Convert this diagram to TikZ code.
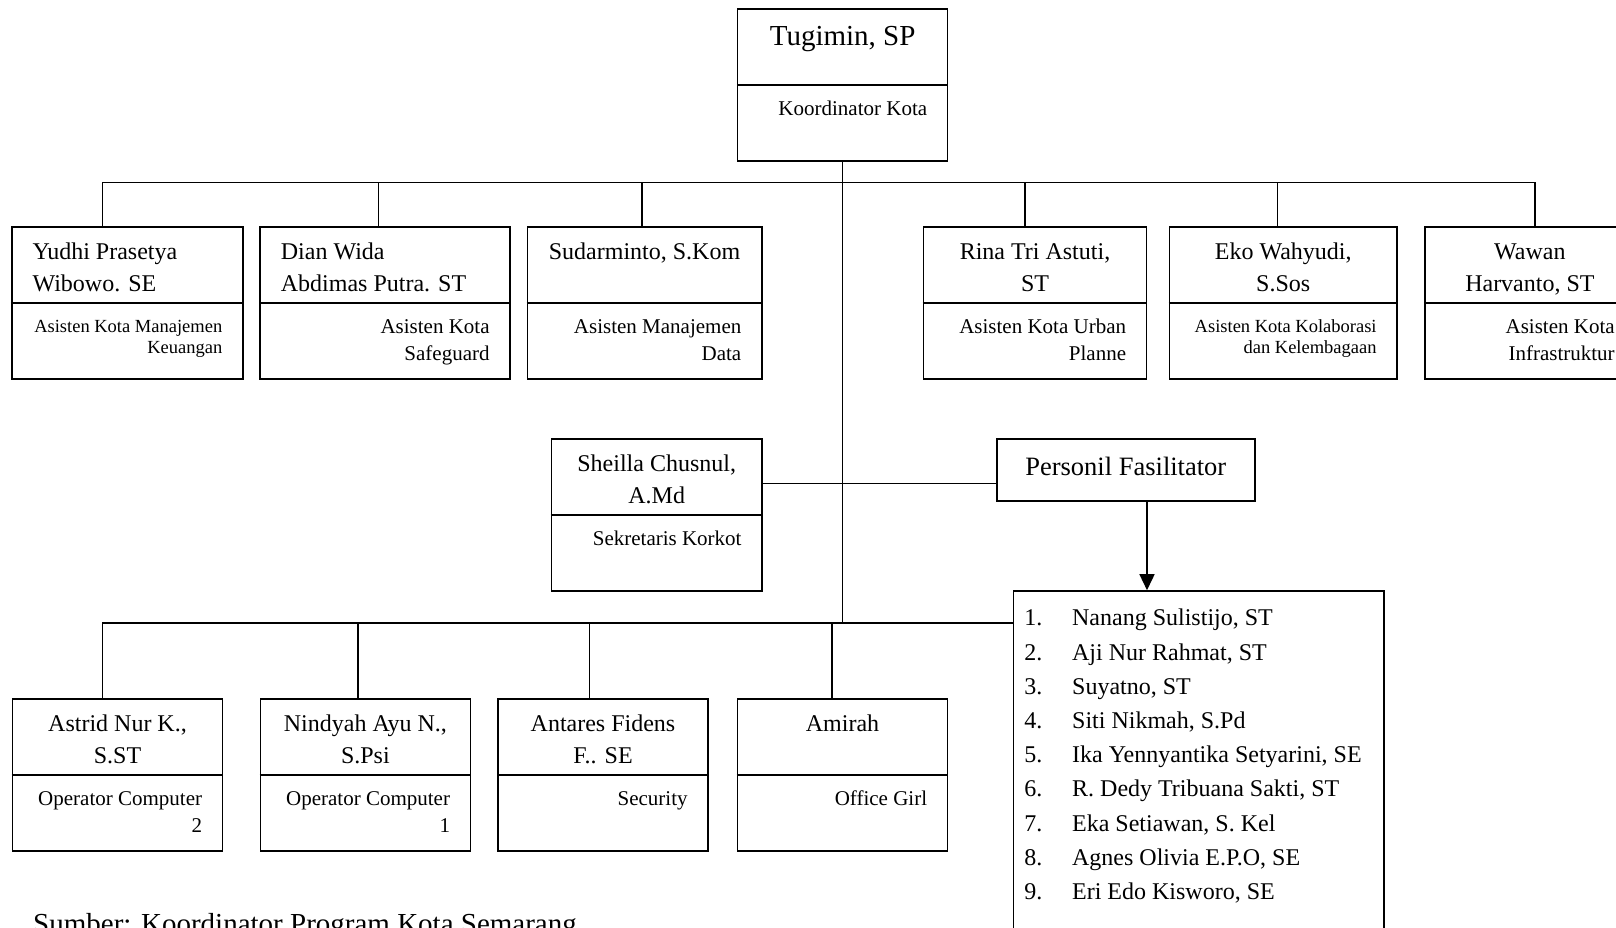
\documentclass[tikz,border=0pt]{standalone}
\usepackage{fontspec}
\setmainfont{Liberation Serif}
\usetikzlibrary{arrows.meta,positioning,calc}

\tikzset{
    orgbox/.style={draw, line width=1.6pt, inner sep=0pt, minimum height=152pt},
    link/.style={line width=1.6pt},
    nametxt/.style={inner sep=0pt, font=\fontsize{24}{32}\selectfont, align=center, anchor=north},
    roletxt/.style={inner sep=0pt, font=\fontsize{21}{27.5}\selectfont, align=right, anchor=north east},
    smallrole/.style={roletxt, font=\fontsize{18.5}{21}\selectfont},
    listtxt/.style={inner sep=0pt, font=\fontsize{24}{32}\selectfont, anchor=base west},
}

\begin{document}
\begin{tikzpicture}[x=1pt, y=-1pt]
    \useasboundingbox (0,0) rectangle (1616,928);
    \clip (0,0) rectangle (1616,928);

    % Boxes
    \node[orgbox, minimum width=210pt] (korkot) at (842.6,84.9) {};
    \foreach \id/\cx/\w in {yudhi/127.2/231, dian/385/250, sudar/644.5/234.4,
        rina/1035/223, eko/1283.2/227.6, wawan/1529.9/210.3}
        { \node[orgbox, minimum width=\w pt] (\id) at (\cx,303) {}; }
    \node[orgbox, minimum width=210.5pt] (sheilla) at (656.7,515) {};
    \foreach \id/\cx in {astrid/117.5, nindyah/365.4, antares/603, amirah/842.5}
        { \node[orgbox, minimum width=210pt] (\id) at (\cx,775) {}; }
    \node[draw, line width=1.6pt, inner sep=0pt, minimum width=258pt, minimum height=62pt,
        font=\fontsize{26.5}{30}\selectfont, text height=18pt, text depth=8pt]
        (persfas) at (1125.8,470) {Personil Fasilitator};
    \node[draw, line width=1.6pt, inner sep=0pt, minimum width=370.7pt, minimum height=374pt]
        (facil) at (1198.7,778) {};

    % Dividers
    \foreach \id in {korkot,yudhi,dian,sudar,rina,eko,wawan,sheilla,astrid,nindyah,antares,amirah}
        { \draw[link] (\id.west) -- (\id.east); }

    % Koordinator kota
    \node[nametxt, anchor=base, font=\fontsize{29}{32}\selectfont] (korkot-nm) at ([yshift=-37.7pt]korkot.north) {Tugimin, SP};
    \node[roletxt] (korkot-rl) at ([xshift=-21pt, yshift=-11pt]korkot.east) {\strut Koordinator Kota};

    % Asisten kota
    \node[nametxt, align=left, anchor=north west] (yudhi-nm) at ([xshift=21.5pt, yshift=-10.9pt]yudhi.north west) {\strut Yudhi Prasetya\\Wibowo. SE};
    \node[smallrole] (yudhi-rl) at ([xshift=-21pt, yshift=-14.8pt]yudhi.east) {\strut Asisten Kota Manajemen\\Keuangan};
    \node[nametxt, align=left, anchor=north west] (dian-nm) at ([xshift=21.5pt, yshift=-10.9pt]dian.north west) {\strut Dian Wida\\Abdimas Putra. ST};
    \node[roletxt] (dian-rl) at ([xshift=-21pt, yshift=-11pt]dian.east) {\strut Asisten Kota\\Safeguard};
    \node[nametxt] (sudar-nm) at ([yshift=-10.9pt]sudar.north) {\strut Sudarminto, S.Kom};
    \node[roletxt] (sudar-rl) at ([xshift=-21pt, yshift=-11pt]sudar.east) {\strut Asisten Manajemen\\Data};
    \node[nametxt] (rina-nm) at ([yshift=-10.9pt]rina.north) {\strut Rina Tri Astuti,\\ST};
    \node[roletxt] (rina-rl) at ([xshift=-21pt, yshift=-11pt]rina.east) {\strut Asisten Kota Urban\\Planne};
    \node[nametxt] (eko-nm) at ([yshift=-10.9pt]eko.north) {\strut Eko Wahyudi,\\S.Sos};
    \node[smallrole] (eko-rl) at ([xshift=-21pt, yshift=-14.8pt]eko.east) {\strut Asisten Kota Kolaborasi\\dan Kelembagaan};
    \node[nametxt] (wawan-nm) at ([yshift=-10.9pt]wawan.north) {\strut Wawan\\Harvanto, ST};
    \node[roletxt] (wawan-rl) at ([xshift=-21pt, yshift=-11pt]wawan.east) {\strut Asisten Kota\\Infrastruktur};

    % Sekretaris
    \node[nametxt] (sheilla-nm) at ([yshift=-10.9pt]sheilla.north) {\strut Sheilla Chusnul,\\A.Md};
    \node[roletxt] (sheilla-rl) at ([xshift=-21pt, yshift=-11pt]sheilla.east) {\strut Sekretaris Korkot};

    % Staf pendukung
    \node[nametxt] (astrid-nm) at ([yshift=-10.9pt]astrid.north) {\strut Astrid Nur K.,\\S.ST};
    \node[roletxt] (astrid-rl) at ([xshift=-21pt, yshift=-11pt]astrid.east) {\strut Operator Computer\\2};
    \node[nametxt] (nindyah-nm) at ([yshift=-10.9pt]nindyah.north) {\strut Nindyah Ayu N.,\\S.Psi};
    \node[roletxt] (nindyah-rl) at ([xshift=-21pt, yshift=-11pt]nindyah.east) {\strut Operator Computer\\1};
    \node[nametxt] (antares-nm) at ([yshift=-10.9pt]antares.north) {\strut Antares Fidens\\F.. SE};
    \node[roletxt] (antares-rl) at ([xshift=-21pt, yshift=-11pt]antares.east) {\strut Security};
    \node[nametxt] (amirah-nm) at ([yshift=-10.9pt]amirah.north) {\strut Amirah};
    \node[roletxt] (amirah-rl) at ([xshift=-21pt, yshift=-11pt]amirah.east) {\strut Office Girl};

    % Daftar fasilitator
    \foreach \nm [count=\i] in {{Nanang Sulistijo, ST}, {Aji Nur Rahmat, ST}, {Suyatno, ST},
        {Siti Nikmah, S.Pd}, {Ika Yennyantika Setyarini, SE}, {R. Dedy Tribuana Sakti, ST},
        {Eka Setiawan, S. Kel}, {Agnes Olivia E.P.O, SE}, {Eri Edo Kisworo, SE}}
    {
        \node[listtxt] (num\i) at ($(facil.north west)+(11.7,{35.7+34.2*(\i-1)})$) {\i.};
        \node[listtxt] (fas\i) at ($(facil.north west)+(59.4,{35.7+34.2*(\i-1)})$) {\nm};
    }

    % Connectors
    \coordinate (topbar) at (842.6,182.5);
    \coordinate (lowbar) at (842.6,623);
    \draw[link] (korkot.south) -- (lowbar);
    \foreach \id/\dx in {yudhi/-24.9, dian/-6.7, sudar/-2.8, rina/-10, eko/-5.9, wawan/4.8}
        { \draw[link] ([xshift=\dx pt]\id.north) |- (topbar); }
    \foreach \id/\dx in {astrid/-15, nindyah/-7.2, antares/-13.5, amirah/-10.8}
        { \draw[link] ([xshift=\dx pt]\id.north) |- (lowbar); }
    \draw[link] (lowbar) -- (lowbar -| facil.west);
    \draw[link] ([yshift=-13.3pt]persfas.west) -- ([yshift=-13.3pt]persfas.west -| sheilla.east);
    \draw[link, -{Triangle[length=16pt, width=15pt]}] ([xshift=21.2pt]persfas.south) -- ([xshift=21.2pt]persfas.south |- facil.north);

    % Sumber
    \node[inner sep=0pt, anchor=base west, font=\fontsize{29}{32}\selectfont] (source) at (33,933) {Sumber: Koordinator Program Kota Semarang};

\end{tikzpicture}
\end{document}
